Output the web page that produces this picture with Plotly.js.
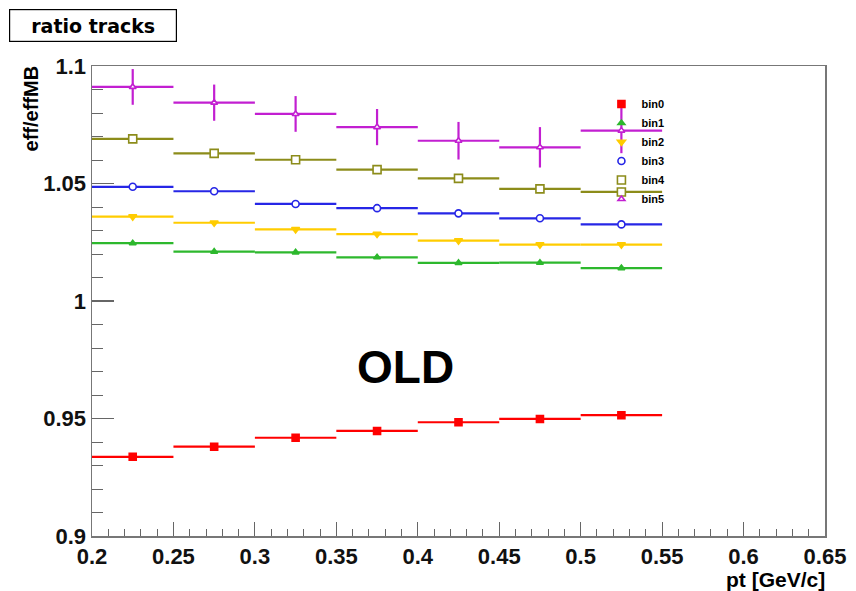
<!DOCTYPE html>
<html>
<head>
<meta charset="utf-8">
<script src="https://cdn.plot.ly/plotly-3.0.1.min.js"></script>
<style>html,body{margin:0;padding:0;background:#fff;}#chart{width:856px;height:591px;}</style>
</head>
<body>
<div id="chart"></div>
<script>
const ptCenters = [0.225, 0.275, 0.325, 0.375, 0.425, 0.475, 0.525];
const ptHalfWidth = [0.025, 0.025, 0.025, 0.025, 0.025, 0.025, 0.025];
const seriesNames = ["bin0", "bin1", "bin2", "bin3", "bin4", "bin5"];
const bin0 = [0.9337, 0.9380, 0.9418, 0.9447, 0.9484, 0.9498, 0.9514];
const bin1 = [1.0246, 1.0210, 1.0207, 1.0186, 1.0162, 1.0163, 1.0140];
const bin2 = [1.0359, 1.0333, 1.0305, 1.0285, 1.0257, 1.0240, 1.0240];
const bin3 = [1.0486, 1.0467, 1.0413, 1.0395, 1.0373, 1.0352, 1.0326];
const bin4 = [1.0690, 1.0628, 1.0601, 1.0559, 1.0522, 1.0477, 1.0464];
const bin5 = [1.0911, 1.0844, 1.0796, 1.0740, 1.0682, 1.0654, 1.0725];
const bin0Err = [0.0003, 0.0003, 0.0003, 0.0003, 0.0003, 0.0003, 0.0003];
const bin1Err = [0.0004, 0.0004, 0.0004, 0.0004, 0.0004, 0.0004, 0.0004];
const bin2Err = [0.0005, 0.0005, 0.0005, 0.0005, 0.0005, 0.0006, 0.0007];
const bin3Err = [0.0006, 0.0006, 0.0006, 0.0007, 0.0007, 0.0007, 0.0008];
const bin4Err = [0.0015, 0.0015, 0.0015, 0.0015, 0.0016, 0.0017, 0.0018];
const bin5Err = [0.0076, 0.0077, 0.0076, 0.0077, 0.0080, 0.0086, 0.0096];

const values = [bin0, bin1, bin2, bin3, bin4, bin5];
const errors = [bin0Err, bin1Err, bin2Err, bin3Err, bin4Err, bin5Err];
const colors = ["#ff0000", "#2db82d", "#ffcc00", "#2626e6", "#8c8c1a", "#c21fd1"];
const symbols = ["square", "triangle-up", "triangle-down", "circle", "square", "triangle-up"];
const hollow = [false, false, false, true, true, true];
const sizes = [7, 6, 7, 7, 8, 6];

const traces = values.map((v, i) => ({
  type: "scatter",
  mode: "markers",
  name: seriesNames[i],
  x: ptCenters,
  y: v,
  marker: {color: hollow[i] ? "#ffffff" : colors[i], symbol: symbols[i], size: sizes[i],
           line: {color: colors[i], width: 1.6}},
  error_x: {type: "data", array: ptHalfWidth, symmetric: true, color: colors[i], thickness: 2.2, width: 0},
  error_y: {type: "data", array: errors[i], symmetric: true, color: colors[i], thickness: 2.2, width: 0}
}));

const FONT = "Liberation Sans, Arial, Helvetica, sans-serif";
const layout = {
  width: 856, height: 591,
  margin: {l: 92, r: 31, t: 66, b: 55},
  paper_bgcolor: "#ffffff", plot_bgcolor: "#ffffff",
  showlegend: true,
  legend: {x: 0.695, y: 0.95, xanchor: "left", yanchor: "top", bgcolor: "rgba(0,0,0,0)",
           font: {family: FONT, size: 11, color: "#000", weight: "bold"}, itemwidth: 30},
  xaxis: {
    range: [0.2, 0.65], dtick: 0.05, tick0: 0.2,
    showgrid: false, zeroline: false,
    showline: true, mirror: true, linecolor: "#777", linewidth: 1.5,
    ticks: "inside", ticklen: 14, tickcolor: "#666", tickwidth: 1.2,
    minor: {dtick: 0.01, ticks: "inside", ticklen: 7, tickcolor: "#666", tickwidth: 1, showgrid: false},
    tickfont: {family: FONT, size: 22, color: "#111", weight: "bold"}
  },
  yaxis: {
    range: [0.9, 1.1], dtick: 0.05, tick0: 0.9,
    showgrid: false, zeroline: false,
    showline: true, mirror: true, linecolor: "#777", linewidth: 1.5,
    ticks: "inside", ticklen: 22, tickcolor: "#666", tickwidth: 1.2,
    minor: {dtick: 0.01, ticks: "inside", ticklen: 11, tickcolor: "#666", tickwidth: 1, showgrid: false},
    tickfont: {family: FONT, size: 22, color: "#111", weight: "bold"}
  },
  annotations: [
    {text: "ratio tracks", xref: "paper", yref: "paper", x: -0.1132, y: 1.1213, xanchor: "left", yanchor: "top",
     showarrow: false, bordercolor: "#000", borderwidth: 1.2, bgcolor: "#fff", width: 164, height: 29,
     font: {family: "DejaVu Sans, sans-serif", size: 19, color: "#000", weight: "bold"}},
    {text: "eff/effMB", xref: "paper", yref: "paper", x: -0.0835, y: 1.005, xanchor: "center", yanchor: "top",
     textangle: -90, showarrow: false, font: {family: FONT, size: 20, color: "#000", weight: "bold"}},
    {text: "pt [GeV/c]", xref: "paper", yref: "paper", x: 1.002, y: -0.066, xanchor: "right", yanchor: "top",
     showarrow: false, borderpad: 0, font: {family: FONT, size: 21, color: "#000", weight: "bold"}},
    {text: "OLD", xref: "paper", yref: "paper", x: 0.428, y: 0.36, xanchor: "center", yanchor: "middle",
     showarrow: false, font: {family: FONT, size: 46, color: "#000", weight: "bold"}}
  ]
};

Plotly.newPlot("chart", traces, layout, {staticPlot: true, displayModeBar: false});
</script>
</body>
</html>
